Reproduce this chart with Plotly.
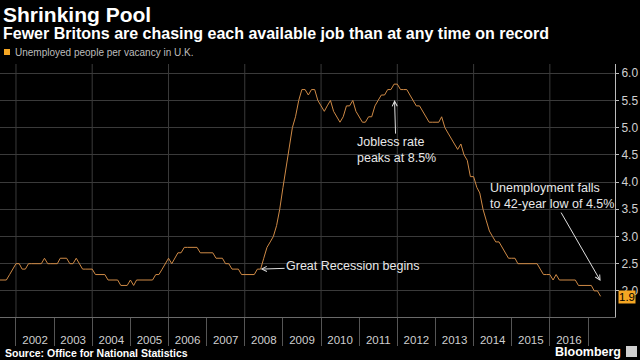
import pandas as pd
import plotly.graph_objects as go

# ---------------- data ----------------
START_MONTH = "2001-08-01"
VALUES = [
    2.2, 2.2, 2.2, 2.3, 2.4,                                        # 2001 Aug-Dec
    2.5, 2.5, 2.4, 2.4, 2.5, 2.5, 2.5, 2.5, 2.5, 2.6, 2.5, 2.5,     # 2002
    2.5, 2.5, 2.6, 2.6, 2.6, 2.5, 2.5, 2.6, 2.5, 2.4, 2.4, 2.4,     # 2003
    2.4, 2.3, 2.3, 2.3, 2.3, 2.2, 2.2, 2.2, 2.2, 2.1, 2.1, 2.1,     # 2004
    2.2, 2.1, 2.2, 2.2, 2.2, 2.2, 2.2, 2.2, 2.3, 2.3, 2.4, 2.5,     # 2005
    2.6, 2.5, 2.6, 2.7, 2.7, 2.8, 2.8, 2.8, 2.8, 2.8, 2.7, 2.7,     # 2006
    2.7, 2.7, 2.7, 2.6, 2.6, 2.6, 2.5, 2.5, 2.4, 2.4, 2.4, 2.3,     # 2007
    2.3, 2.3, 2.3, 2.3, 2.4, 2.4, 2.6, 2.8, 2.9, 3.0, 3.2, 3.5,     # 2008
    3.9, 4.3, 4.6, 5.0, 5.2, 5.5, 5.7, 5.7, 5.6, 5.7, 5.7, 5.5,     # 2009
    5.4, 5.3, 5.4, 5.5, 5.3, 5.2, 5.1, 5.2, 5.4, 5.4, 5.5, 5.3,     # 2010
    5.2, 5.1, 5.1, 5.2, 5.2, 5.4, 5.5, 5.6, 5.6, 5.7, 5.7, 5.8,     # 2011
    5.8, 5.7, 5.7, 5.7, 5.6, 5.5, 5.4, 5.4, 5.3, 5.2, 5.1, 5.1,     # 2012
    5.1, 5.1, 5.2, 5.0, 4.9, 4.8, 4.7, 4.6, 4.7, 4.5, 4.4, 4.1,     # 2013
    4.1, 3.9, 3.8, 3.5, 3.3, 3.1, 3.0, 2.9, 2.9, 2.8, 2.7, 2.6,     # 2014
    2.6, 2.6, 2.5, 2.5, 2.5, 2.5, 2.5, 2.5, 2.5, 2.4, 2.3, 2.3,     # 2015
    2.3, 2.2, 2.3, 2.2, 2.2, 2.2, 2.2, 2.2, 2.2, 2.1, 2.1, 2.1,     # 2016
    2.1, 2.1, 2.0, 2.0, 1.9,                                        # 2017 Jan-May
]
DATES = pd.date_range(START_MONTH, periods=len(VALUES), freq="MS")

GRID_YEARS = [2002, 2004, 2006, 2008, 2010, 2012, 2014, 2016]
X_RANGE = ["2001-08-01", "2017-09-16"]
Y_RANGE = [1.52, 6.17]
Y_TICKS = [2.0, 2.5, 3.0, 3.5, 4.0, 4.5, 5.0, 5.5, 6.0]

TITLE = "Shrinking Pool"
SUBTITLE = "Fewer Britons are chasing each available job than at any time on record"
SERIES_NAME = "Unemployed people per vacancy in U.K."
SOURCE = "Source: Office for National Statistics"

# ---------------- layout geometry ----------------
W, H = 640, 360
M_L, M_R, M_T, M_B = 0, 25, 64, 43
PLOT_H = H - M_T - M_B
PLOT_W = W - M_L - M_R


def py(pixel_y):
    """pixel row -> paper y"""
    return (H - M_B - pixel_y) / PLOT_H


def px(pixel_x):
    """pixel column -> paper x"""
    return (pixel_x - M_L) / PLOT_W


FONT = "Liberation Sans, Arial, sans-serif"
LINE_COLOR = "#cf8a46"
ORANGE = "#f5a623"
TEXT = "#e8e8e8"

fig = go.Figure()
fig.add_trace(go.Scatter(
    x=DATES, y=VALUES, mode="lines",
    line=dict(color=LINE_COLOR, width=1),
    name=SERIES_NAME, showlegend=False, hoverinfo="skip",
))

shapes = []
for yr in GRID_YEARS:
    shapes.append(dict(type="line", xref="x", yref="paper",
                       x0=f"{yr}-01-01", x1=f"{yr}-01-01", y0=0, y1=1,
                       line=dict(color="#3a3a3a", width=1), layer="below"))
# legend swatch
shapes.append(dict(type="rect", xref="paper", yref="paper",
                   x0=px(4), x1=px(10), y0=py(55), y1=py(49),
                   fillcolor=ORANGE, line=dict(width=0)))
# Bloomberg logo mark
shapes.append(dict(type="rect", xref="paper", yref="paper",
                   x0=px(626), x1=px(637), y0=py(357), y1=py(346),
                   fillcolor="#d0d0d0", line=dict(width=0)))

annotations = [
    dict(text=f"<b>{TITLE}</b>", xref="paper", yref="paper", x=0, y=py(14),
         xanchor="left", yanchor="middle", xshift=1, showarrow=False,
         font=dict(family=FONT, size=21, color="#ffffff")),
    dict(text=f"<b>{SUBTITLE}</b>", xref="paper", yref="paper", x=0, y=py(33),
         xanchor="left", yanchor="middle", xshift=1, showarrow=False,
         font=dict(family=FONT, size=16, color="#ffffff")),
    dict(text=SERIES_NAME, xref="paper", yref="paper", x=px(13), y=py(52),
         xanchor="left", yanchor="middle", showarrow=False,
         font=dict(family=FONT, size=10, color="#bdbdbd")),
    dict(text=f"<b>{SOURCE}</b>", xref="paper", yref="paper", x=0, y=py(353),
         xanchor="left", yanchor="middle", xshift=3, showarrow=False,
         font=dict(family=FONT, size=10.5, color="#ffffff")),
    dict(text="<b>Bloomberg</b>", xref="paper", yref="paper", x=px(623), y=py(352),
         xanchor="right", yanchor="middle", showarrow=False,
         font=dict(family=FONT, size=12.5, color="#ffffff")),
    # last value badge
    dict(text=f"{VALUES[-1]:.1f}", xref="paper", yref="y", x=1, y=VALUES[-1],
         xanchor="left", yanchor="middle", xshift=3, yshift=-1, showarrow=False,
         bgcolor=ORANGE, borderpad=0,
         font=dict(family=FONT, size=11.5, color="#000000")),
    # callouts
    dict(text="Great Recession begins", x=DATES[82], y=VALUES[82],
         xref="x", yref="y", ax=92, ay=-3, showarrow=True,
         arrowhead=5, arrowsize=1, arrowwidth=1, arrowcolor="#e0e0e0",
         font=dict(family=FONT, size=12.5, color=TEXT)),
    dict(text="Jobless rate<br>peaks at 8.5%", x=DATES[124], y=VALUES[124],
         xref="x", yref="y", ax=2, ay=66, standoff=16, align="left",
         showarrow=True, arrowhead=5, arrowsize=1, arrowwidth=1,
         arrowcolor="#e0e0e0",
         font=dict(family=FONT, size=12.5, color=TEXT)),
    dict(text="Unemployment falls<br>to 42-year low of 4.5%", x=DATES[189], y=2.18,
         xref="x", yref="y", ax=-49, ay=-85, align="left",
         showarrow=True, arrowhead=5, arrowsize=1, arrowwidth=1,
         arrowcolor="#e0e0e0",
         font=dict(family=FONT, size=12.5, color=TEXT)),
]

fig.update_layout(
    width=W, height=H,
    margin=dict(l=M_L, r=M_R, t=M_T, b=M_B),
    paper_bgcolor="#000000", plot_bgcolor="#000000",
    shapes=shapes, annotations=annotations,
    xaxis=dict(
        type="date", range=X_RANGE, dtick="M12", tick0="2002-01-01",
        tickformat="%Y", ticklabelmode="period", labelalias={"2017": " "},
        ticks="outside", ticklen=28, tickcolor="#555555", tickwidth=1,
        ticklabelstandoff=-16,
        showgrid=False, zeroline=False,
        showline=True, linecolor="#6a6a6a", linewidth=1,
        tickfont=dict(family=FONT, size=11.5, color="#cfcfcf"),
    ),
    yaxis=dict(
        side="right", range=Y_RANGE, tickmode="array", tickvals=Y_TICKS,
        tickformat=".1f", ticks="outside", ticklen=3, tickcolor="#bbbbbb",
        showline=True, linecolor="#bbbbbb", linewidth=1,
        showgrid=True, gridcolor="#3a3a3a", gridwidth=1, zeroline=False,
        tickfont=dict(family=FONT, size=12, color="#d0d0d0"),
    ),
)

fig.write_html(
    "out.html",
    config={"displayModeBar": False, "staticPlot": True},
    post_script="document.body.style.margin='0';document.body.style.overflow='hidden';",
)
